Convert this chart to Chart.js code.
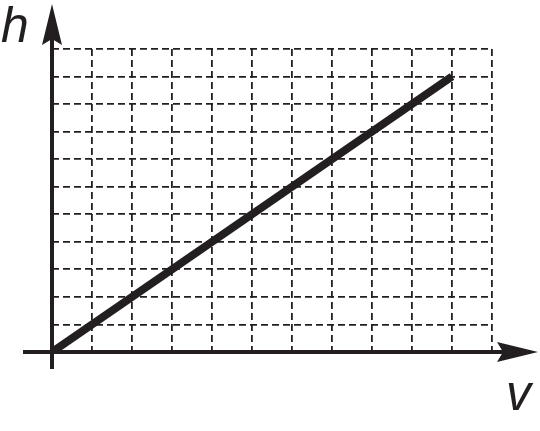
<!DOCTYPE html>
<html>
<head>
<meta charset="utf-8">
<script src="https://cdn.jsdelivr.net/npm/chart.js@4.4.1/dist/chart.umd.min.js"></script>
<style>
html,body{margin:0;padding:0;background:#fff;}
canvas{display:block;}
</style>
</head>
<body>
<canvas id="c" width="540" height="431"></canvas>
<script>
// Data
const vValues = [0, 10];
const hValues = [0, 10];
const xLabel = 'v';
const yLabel = 'h';
const xMax = 11;
const yMax = 11;

const INK = '#231f20';

const axesPlugin = {
  id: 'axesArrows',
  afterDatasetsDraw(chart) {
    const ctx = chart.ctx;
    const x = chart.scales.x, y = chart.scales.y;
    const x0 = x.getPixelForValue(0);
    const y0 = y.getPixelForValue(0);
    ctx.save();
    ctx.setLineDash([]);
    ctx.strokeStyle = INK;
    ctx.fillStyle = INK;
    ctx.lineWidth = 4;
    ctx.lineCap = 'butt';
    // y axis
    ctx.beginPath();
    ctx.moveTo(x0, y0 + 17);
    ctx.lineTo(x0, 30);
    ctx.stroke();
    // x axis
    ctx.beginPath();
    ctx.moveTo(x0 - 29, y0);
    ctx.lineTo(510, y0);
    ctx.stroke();
    // y arrow head
    ctx.beginPath();
    ctx.moveTo(x0, 4);
    ctx.lineTo(x0 + 10, 45);
    ctx.lineTo(x0, 39);
    ctx.lineTo(x0 - 10, 45);
    ctx.closePath();
    ctx.fill();
    // x arrow head
    ctx.beginPath();
    ctx.moveTo(538, y0);
    ctx.lineTo(497, y0 - 10);
    ctx.lineTo(503, y0);
    ctx.lineTo(497, y0 + 10);
    ctx.closePath();
    ctx.fill();
    // labels
    ctx.font = 'italic 50px "Liberation Sans", Arial, sans-serif';
    ctx.textBaseline = 'alphabetic';
    ctx.textAlign = 'left';
    ctx.fillText(yLabel, 1, 42);
    ctx.fillText(xLabel, 506, 410);
    ctx.restore();
  }
};

new Chart(document.getElementById('c'), {
  type: 'scatter',
  data: {
    datasets: [{
      data: vValues.map((v, i) => ({x: v, y: hValues[i]})),
      showLine: true,
      borderColor: INK,
      borderWidth: 8,
      borderCapStyle: 'butt',
      pointRadius: 0,
      fill: false
    }]
  },
  options: {
    responsive: false,
    animation: false,
    layout: { padding: { left: 52, right: 48, top: 49, bottom: 79 } },
    plugins: { legend: { display: false }, tooltip: { enabled: false } },
    scales: {
      x: {
        type: 'linear', min: 0, max: xMax,
        ticks: { display: false, stepSize: 1 },
        border: { display: false, dash: [7, 4] },
        grid: { color: INK, lineWidth: 1.8, drawTicks: false }
      },
      y: {
        type: 'linear', min: 0, max: yMax,
        ticks: { display: false, stepSize: 1 },
        border: { display: false, dash: [7, 4] },
        grid: { color: INK, lineWidth: 1.8, drawTicks: false }
      }
    }
  },
  plugins: [axesPlugin]
});
</script>
</body>
</html>
